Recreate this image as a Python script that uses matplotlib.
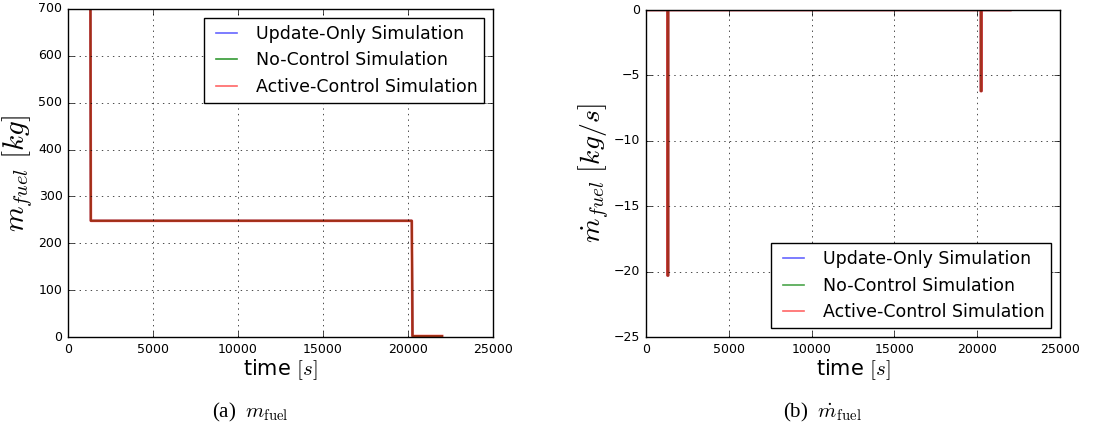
import numpy as np
import matplotlib
matplotlib.use("Agg")
import matplotlib.pyplot as plt

# Fuel mass step profile (kg) vs time (s)
t_mass = [0, 1300, 1340, 20220, 20260, 22000]
m_update = [1060, 1060, 248, 248, 2, 2]
m_nocontrol = [1060, 1060, 248, 248, 2, 2]
m_active = [1060, 1060, 248, 248, 2, 2]

# Fuel mass rate (kg/s) vs time (s)
t_rate = [0, 1299, 1300, 1340, 1341, 20219, 20220, 20260, 20261, 22000]
r_update = [0, 0, -20.3, -20.3, 0, 0, -6.2, -6.2, 0, 0]
r_nocontrol = [0, 0, -20.3, -20.3, 0, 0, -6.2, -6.2, 0, 0]
r_active = [0, 0, -20.3, -20.3, 0, 0, -6.2, -6.2, 0, 0]

labels = ["Update-Only Simulation", "No-Control Simulation", "Active-Control Simulation"]

plt.style.use('classic')
fig = plt.figure(figsize=(10.94, 4.28), dpi=100, facecolor='white')

ax1 = fig.add_axes([0.0622, 0.2126, 0.3885, 0.7664])
ax1.plot(t_mass, m_update, color='blue', alpha=0.6, lw=1.5, label=labels[0])
ax1.plot(t_mass, m_nocontrol, color='green', alpha=0.8, lw=1.5, label=labels[1])
ax1.plot(t_mass, m_active, color='red', alpha=0.6, lw=2, label=labels[2])
ax1.set_xlim(0, 25000)
ax1.set_ylim(0, 700)
ax1.grid(True)
ax1.set_xlabel(r"time $[s]$", fontsize=15, labelpad=1)
ax1.set_ylabel(r"$m_{fuel}\ [kg]$", fontsize=21)
ax1.yaxis.set_label_coords(-0.078, 0.5)
ax1.tick_params(labelsize=9)
leg1 = ax1.legend(loc='upper right', fontsize=12.5, handlelength=1.8, borderaxespad=0.5)
for ln in leg1.get_lines():
    ln.set_linewidth(1.2)

ax2 = fig.add_axes([0.5905, 0.2126, 0.3784, 0.764])
ax2.plot(t_rate, r_update, color='blue', alpha=0.6, lw=1.5, label=labels[0])
ax2.plot(t_rate, r_nocontrol, color='green', alpha=0.7, lw=1.5, label=labels[1])
ax2.plot(t_rate, r_active, color='red', alpha=0.6, lw=2, label=labels[2])
ax2.set_xlim(0, 25000)
ax2.set_ylim(-25, 0)
ax2.grid(True)
ax2.set_xlabel(r"time $[s]$", fontsize=15, labelpad=1)
ax2.set_ylabel(r"$\dot{m}_{fuel}\ [kg/s]$", fontsize=20)
ax2.yaxis.set_label_coords(-0.082, 0.5)
ax2.tick_params(labelsize=9)
leg2 = ax2.legend(loc='lower right', fontsize=12.5, handlelength=1.8, borderaxespad=0.5)
for ln in leg2.get_lines():
    ln.set_linewidth(1.2)

fig.text(0.229, 0.037, r"(a)  $m_{\rm fuel}$", ha='center', va='center',
         fontsize=15, family='Liberation Serif')
fig.text(0.752, 0.037, r"(b)  $\dot{m}_{\rm fuel}$", ha='center', va='center',
         fontsize=15, family='Liberation Serif')

fig.savefig("out.png", dpi=100, facecolor='white')
